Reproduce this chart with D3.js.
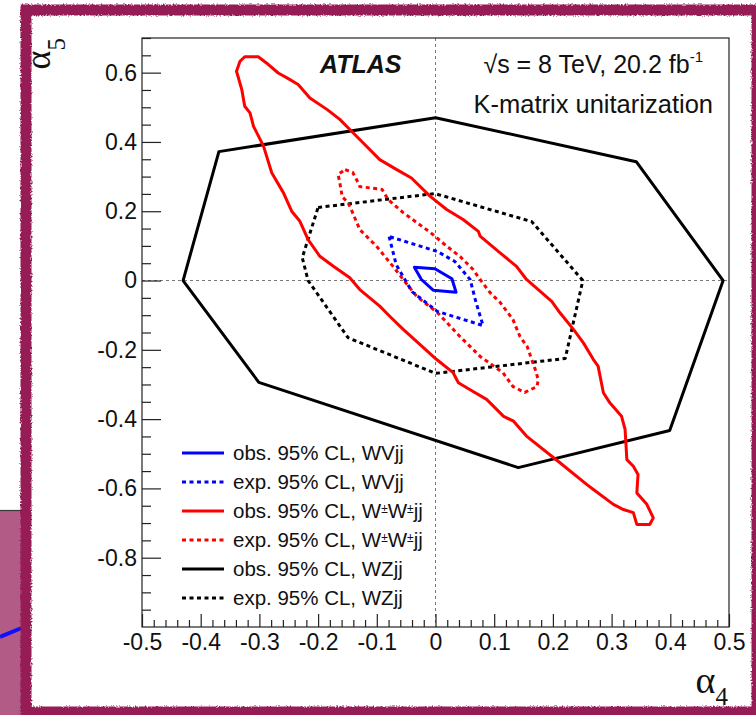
<!DOCTYPE html>
<html><head><meta charset="utf-8">
<script src="https://cdn.jsdelivr.net/npm/d3@7"></script>
<style>body{margin:0;background:#fff}svg{display:block}</style>
</head><body><svg id="chart" width="756" height="715"></svg>
<script>
// ---- data (alpha4, alpha5) ----
const xTickValues = [-0.5,-0.4,-0.3,-0.2,-0.1,0,0.1,0.2,0.3,0.4,0.5];
const yTickValues = [-0.8,-0.6,-0.4,-0.2,0,0.2,0.4,0.6];
const xTickLabels = ["-0.5","-0.4","-0.3","-0.2","-0.1","0","0.1","0.2","0.3","0.4","0.5"];
const yTickLabels = ["-0.8","-0.6","-0.4","-0.2","0","0.2","0.4","0.6"];

const legendLabels = ["obs. 95% CL, WVjj","exp. 95% CL, WVjj","obs. 95% CL, W±W±jj","exp. 95% CL, W±W±jj","obs. 95% CL, WZjj","exp. 95% CL, WZjj"];

const wvjjObs = [[-0.036,0.038],[-0.001,0.034],[0.028,0.005],[0.035,-0.034],[-0.004,-0.028],[-0.024,0.003]];
const wvjjExp = [[-0.079,0.127],[-0.067,0.046],[-0.040,-0.032],[0.003,-0.089],[0.081,-0.130],[0.069,-0.063],[0.059,0.003],[0.033,0.055],[0.003,0.084]];
const wwjjObs = [[-0.333,0.633],[-0.325,0.646],[-0.302,0.646],[-0.288,0.628],[-0.268,0.599],[-0.253,0.585],[-0.234,0.566],[-0.214,0.527],[-0.185,0.494],[-0.163,0.465],[-0.146,0.436],[-0.129,0.407],[-0.095,0.349],[-0.066,0.320],[-0.041,0.296],[-0.009,0.243],[0.019,0.205],[0.047,0.176],[0.073,0.142],[0.076,0.128],[0.110,0.080],[0.138,0.041],[0.155,0.003],[0.198,-0.060],[0.212,-0.093],[0.235,-0.141],[0.252,-0.180],[0.269,-0.228],[0.277,-0.247],[0.286,-0.324],[0.297,-0.353],[0.317,-0.392],[0.323,-0.430],[0.326,-0.517],[0.337,-0.536],[0.345,-0.560],[0.343,-0.613],[0.360,-0.646],[0.371,-0.685],[0.365,-0.704],[0.343,-0.704],[0.337,-0.670],[0.320,-0.661],[0.303,-0.646],[0.269,-0.603],[0.258,-0.589],[0.212,-0.526],[0.155,-0.449],[0.133,-0.406],[0.116,-0.392],[0.087,-0.343],[0.059,-0.315],[0.039,-0.295],[0.030,-0.266],[0.002,-0.228],[-0.055,-0.141],[-0.078,-0.103],[-0.095,-0.074],[-0.129,-0.026],[-0.146,0.008],[-0.174,0.041],[-0.197,0.070],[-0.217,0.118],[-0.231,0.171],[-0.245,0.200],[-0.259,0.253],[-0.279,0.311],[-0.293,0.388],[-0.310,0.445],[-0.316,0.484],[-0.325,0.503],[-0.330,0.551],[-0.339,0.604]];
const wwjjExp = [[-0.154,0.320],[-0.141,0.312],[-0.132,0.283],[-0.129,0.271],[-0.091,0.263],[-0.081,0.234],[-0.055,0.196],[-0.009,0.139],[0.020,0.098],[0.042,0.069],[0.064,0.032],[0.076,0.003],[0.093,-0.035],[0.110,-0.063],[0.132,-0.113],[0.144,-0.162],[0.156,-0.190],[0.170,-0.257],[0.175,-0.286],[0.173,-0.306],[0.152,-0.323],[0.132,-0.306],[0.115,-0.266],[0.076,-0.219],[0.042,-0.162],[0.003,-0.092],[-0.032,-0.046],[-0.055,0.003],[-0.072,0.040],[-0.100,0.098],[-0.129,0.147],[-0.142,0.199],[-0.149,0.225],[-0.159,0.242],[-0.163,0.283],[-0.166,0.306]];
const wzjjObs = [[-0.430,0.0],[-0.369,0.372],[0.0,0.470],[0.342,0.343],[0.490,0.0],[0.399,-0.433],[0.141,-0.540],[-0.301,-0.294]];
const wzjjExp = [[-0.200,0.211],[-0.001,0.251],[0.164,0.170],[0.251,0.0],[0.221,-0.225],[0.0,-0.268],[-0.149,-0.165],[-0.217,0.0],[-0.227,0.066]];

// ---- styles ----
const seriesList = [
  {data: wzjjObs, color:"#000", dash:null},
  {data: wzjjExp, color:"#000", dash:"4,3.5"},
  {data: wwjjExp, color:"#ff0000", dash:"4,3.5"},
  {data: wwjjObs, color:"#ff0000", dash:null},
  {data: wvjjExp, color:"#0000ff", dash:"4,3.5"},
  {data: wvjjObs, color:"#0000ff", dash:null}
];
const legendStyle = [
  {color:"#0000ff", dash:null},{color:"#0000ff", dash:"4,3.5"},
  {color:"#ff0000", dash:null},{color:"#ff0000", dash:"4,3.5"},
  {color:"#000", dash:null},{color:"#000", dash:"4,3.5"}
];

const svg = d3.select("#chart");
const L = 142, R = 729, T = 38, B = 627;
const x = d3.scaleLinear().domain([-0.5,0.5]).range([L,R]);
const y = d3.scaleLinear().domain([-1.0,0.7]).range([B,T]);
const font = "'Liberation Sans', Arial, Helvetica, sans-serif";

// rough filter
const defs = svg.append("defs");
const f = defs.append("filter").attr("id","rough").attr("x","-5%").attr("y","-5%").attr("width","110%").attr("height","110%");
f.append("feTurbulence").attr("type","fractalNoise").attr("baseFrequency","0.6").attr("numOctaves",2).attr("seed",3).attr("result","n");
f.append("feDisplacementMap").attr("in","SourceGraphic").attr("in2","n").attr("scale",3.5).attr("xChannelSelector","R").attr("yChannelSelector","G");

// background decoration lower-left (slide underneath)
svg.append("rect").attr("x",0).attr("y",510).attr("width",24).attr("height",205).attr("fill","#b25b86");
svg.append("line").attr("x1",0).attr("x2",24).attr("y1",510.5).attr("y2",510.5).attr("stroke","#3a3a3a").attr("stroke-width",1.2);
svg.append("line").attr("x1",0).attr("y1",637).attr("x2",24).attr("y2",627).attr("stroke","#1010ff").attr("stroke-width",4);

// white card with rough purple frame
svg.append("rect").attr("x",26).attr("y",10).attr("width",731).attr("height",702)
  .attr("fill","#fff").attr("stroke","#961a55").attr("stroke-width",11).attr("filter","url(#rough)");

// zero lines
const g = svg.append("g");
g.append("line").attr("x1",x(0)).attr("x2",x(0)).attr("y1",T).attr("y2",B)
  .attr("stroke","#777").attr("stroke-width",1).attr("stroke-dasharray","3,3");
g.append("line").attr("x1",L).attr("x2",R).attr("y1",y(0)).attr("y2",y(0))
  .attr("stroke","#777").attr("stroke-width",1).attr("stroke-dasharray","3,3");

// contours
const line = d3.line().x(d=>x(d[0])).y(d=>y(d[1])).curve(d3.curveLinearClosed);
seriesList.forEach(s=>{
  g.append("path").attr("d",line(s.data)).attr("fill","none")
   .attr("stroke",s.color).attr("stroke-width",3)
   .attr("stroke-linejoin","round")
   .attr("stroke-dasharray",s.dash);
});

// frame
svg.append("rect").attr("x",L).attr("y",T).attr("width",R-L).attr("height",B-T)
  .attr("fill","none").attr("stroke","#222").attr("stroke-width",1.2);

// axes
const xMinor = d3.range(-0.5,0.5001,0.02).map(v=>+v.toFixed(2)).filter(v=>Math.abs(Math.round(v*10)-v*10)>1e-6);
const yMinor = d3.range(-1.0,0.7001,0.05).map(v=>+v.toFixed(2)).filter(v=>Math.abs(Math.round(v*5)-v*5)>1e-6);

function styleAxis(sel){
  sel.select(".domain").remove();
  sel.selectAll(".tick line").attr("stroke","#222").attr("stroke-width",1.2);
  sel.selectAll("text").attr("font-family",font).attr("font-size",23).attr("fill","#111");
}
const xAx = svg.append("g").attr("transform",`translate(0,${B})`)
  .call(d3.axisBottom(x).tickValues(xTickValues).tickFormat((d,i)=>xTickLabels[i]).tickSize(-13).tickSizeOuter(0).tickPadding(7));
styleAxis(xAx);
const xAxm = svg.append("g").attr("transform",`translate(0,${B})`)
  .call(d3.axisBottom(x).tickValues(xMinor).tickFormat("").tickSize(-7).tickSizeOuter(0));
styleAxis(xAxm);
const yAx = svg.append("g").attr("transform",`translate(${L},0)`)
  .call(d3.axisLeft(y).tickValues(yTickValues).tickFormat((d,i)=>yTickLabels[i]).tickSize(-19).tickSizeOuter(0).tickPadding(5));
styleAxis(yAx);
const yAxm = svg.append("g").attr("transform",`translate(${L},0)`)
  .call(d3.axisLeft(y).tickValues(yMinor).tickFormat("").tickSize(-9).tickSizeOuter(0));
styleAxis(yAxm);

// axis titles
const serif = "'Liberation Serif','DejaVu Serif',serif";
const xt = svg.append("text").attr("x",728).attr("y",693).attr("text-anchor","end").attr("font-family",serif).attr("fill","#111");
xt.append("tspan").attr("font-size",38).text("α");
xt.append("tspan").attr("font-size",25).attr("dy",12).text("4");
const yt = svg.append("text").attr("transform","translate(50,38) rotate(-90)").attr("text-anchor","end").attr("font-family",serif).attr("fill","#111");
yt.append("tspan").attr("font-size",36).text("α");
yt.append("tspan").attr("font-size",25).attr("dy",15).text("5");

// header texts
svg.append("text").attr("x",320).attr("y",73).attr("font-family",font).attr("font-size",25)
  .attr("font-weight","bold").attr("font-style","italic").attr("fill","#111").text("ATLAS");
const en = svg.append("text").attr("x",703).attr("y",73).attr("text-anchor","end").attr("font-family",font).attr("font-size",25).attr("fill","#111");
en.append("tspan").text("√s = 8 TeV, 20.2 fb");
en.append("tspan").attr("font-size",15).attr("dy",-11).text("-1");
svg.append("text").attr("x",713).attr("y",113).attr("text-anchor","end").attr("font-family",font).attr("font-size",25.5).attr("fill","#111").text("K-matrix unitarization");

// legend
const lg = svg.append("g");
const rowY = d3.scaleLinear().domain([0,5]).range([453,598]);
legendLabels.forEach((lab,i)=>{
  const yy = rowY(i);
  lg.append("line").attr("x1",182).attr("x2",224).attr("y1",yy).attr("y2",yy)
    .attr("stroke",legendStyle[i].color).attr("stroke-width",3).attr("stroke-dasharray",legendStyle[i].dash);
  const t = lg.append("text").attr("x",233).attr("y",yy+7).attr("font-family",font).attr("font-size",20.5).attr("fill","#111");
  const parts = lab.split("±");
  parts.forEach((p,j)=>{
    t.append("tspan").text(p);
    if(j<parts.length-1) t.append("tspan").attr("font-size",12).attr("baseline-shift","45%").text("±");
  });
});
</script></body></html>
